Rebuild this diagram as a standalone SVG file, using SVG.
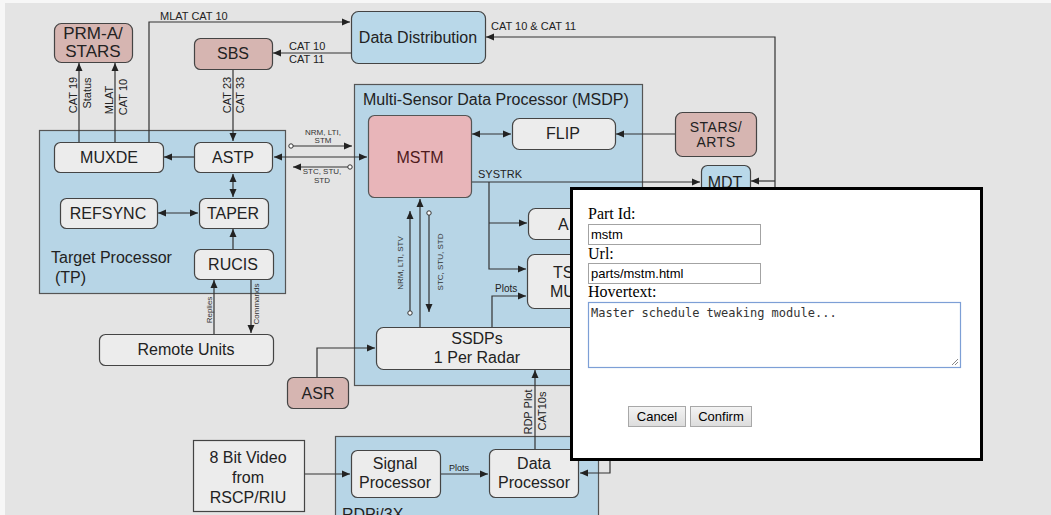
<svg xmlns="http://www.w3.org/2000/svg" width="1051" height="515" viewBox="0 0 1051 515">
<defs>
<marker id="ah" markerUnits="userSpaceOnUse" markerWidth="9" markerHeight="8" refX="8" refY="4" orient="auto-start-reverse"><path d="M0,0.5 L8,4 L0,7.5 Z" fill="#222"/></marker>
<linearGradient id="btn" x1="0" y1="0" x2="0" y2="1"><stop offset="0" stop-color="#f4f4f4"/><stop offset="1" stop-color="#dcdcdc"/></linearGradient>
</defs>
<style>
.t{font-family:"Liberation Sans",Arial,sans-serif;fill:#222}
.n{font-size:16px;text-anchor:middle}
.s{font-size:11px}
.xs{font-size:8px;fill:#333}
.c{text-anchor:middle}
.grp{fill:#b7d5e6;stroke:#555;stroke-width:1.2}
.box{fill:#ececec;stroke:#444;stroke-width:1.2}
.pink{fill:#d6b5b1;stroke:#444;stroke-width:1.2}
.blue{fill:#b9d8e9;stroke:#444;stroke-width:1.2}
.ln{fill:none;stroke:#333;stroke-width:1.2}
.ae{marker-end:url(#ah)}
.ab{marker-start:url(#ah);marker-end:url(#ah)}
.dot{fill:#fff;stroke:#333;stroke-width:1}
.sf{font-family:"Liberation Serif","Times New Roman",serif;font-size:16px;fill:#000}
.in{fill:#fff;stroke:#a3a3a3;stroke-width:1}
.it{font-family:"Liberation Sans",Arial,sans-serif;font-size:13px;fill:#000}
</style>
<rect x="0" y="0" width="1051" height="515" fill="#f7f7f7"/>
<rect x="5" y="3" width="1046" height="512" fill="#e4e4e4"/>

<g id="containers">
<g id="tp"><rect class="grp" x="39.5" y="130.5" width="246" height="163"/>
<text class="t" x="51" y="263" font-size="16">Target Processor</text>
<text class="t" x="55" y="283" font-size="16">(TP)</text></g>
<g id="msdp"><rect class="grp" x="354.5" y="84.5" width="288" height="301"/>
<text class="t" x="363" y="105" font-size="16">Multi-Sensor Data Processor (MSDP)</text></g>
<g id="rdpi"><rect class="grp" x="335.5" y="436.5" width="263" height="90"/>
<text class="t" x="342" y="520" font-size="16">RDPi/3X</text></g>
</g>

<g id="connectors">
<path class="ln ae" d="M149 142 V22 H350"/>
<path class="ln ae" d="M351 53 H273"/>
<path class="ln ae" d="M775 200 V37 H486"/>
<path class="ln ae" d="M775 181 H751"/>
<path class="ln ae" d="M233 69 V141"/>
<path class="ln ae" d="M79 142 V63"/>
<path class="ln ae" d="M115 142 V63"/>
<path class="ln ae" d="M194 157 H164"/>
<path class="ln ab" d="M233 174 V197"/>
<path class="ln ab" d="M158 213 H198"/>
<path class="ln ae" d="M233 249 V229"/>
<path class="ln ae" d="M214 334 V280"/>
<path class="ln ae" d="M251 279 V333"/>
<path class="ln ab" d="M274 157 H367"/>
<path class="ln ae" d="M291 146 H352"/>
<path class="ln ae" d="M350 167 H293"/>
<path class="ln ab" d="M472 134 H511"/>
<path class="ln ae" d="M675 134 H616"/>
<path class="ln ae" d="M472 182 H700"/>
<path class="ln ae" d="M489 182 V269 H526"/>
<path class="ln ae" d="M489 223 H527"/>
<path class="ln ae" d="M492 327 V296 H526"/>
<path class="ln ae" d="M410 313 V211"/>
<path class="ln ae" d="M420 327 V199"/>
<path class="ln ae" d="M429 213 V312"/>
<path class="ln ae" d="M317 377 V348 H375"/>
<path class="ln ae" d="M535 449 V370"/>
<path class="ln ae" d="M304 474 H350"/>
<path class="ln ae" d="M440 474 H488"/>
<path class="ln ae" d="M610 440 V473 H580"/>
<circle class="dot" cx="291" cy="146" r="2.2"/>
<circle class="dot" cx="350" cy="167" r="2.2"/>
<circle class="dot" cx="410" cy="313" r="2.2"/>
<circle class="dot" cx="429" cy="213" r="2.2"/>
<text class="t s" x="160" y="20">MLAT CAT 10</text>
<text class="t s" x="491" y="30">CAT 10 &amp; CAT 11</text>
<text class="t s" x="289" y="50">CAT 10</text>
<text class="t s" x="289" y="63">CAT 11</text>
<text class="t s" x="478" y="178">SYSTRK</text>
<text class="t s c" transform="translate(77,95) rotate(-90)">CAT 19</text>
<text class="t s c" transform="translate(91,93) rotate(-90)">Status</text>
<text class="t s c" transform="translate(113,100) rotate(-90)">MLAT</text>
<text class="t s c" transform="translate(127,97) rotate(-90)">CAT 10</text>
<text class="t s c" transform="translate(231,95) rotate(-90)">CAT 23</text>
<text class="t s c" transform="translate(244,95) rotate(-90)">CAT 33</text>
<text class="t xs c" transform="translate(212,310) rotate(-90)">Replies</text>
<text class="t xs c" transform="translate(259,304) rotate(-90)">Commands</text>
<text class="t xs c" transform="translate(403,263) rotate(-90)">NRM, LTI, STV</text>
<text class="t xs c" transform="translate(443,262) rotate(-90)">STC, STU, STD</text>
<text class="t s c" transform="translate(532,412) rotate(-90)">RDP Plot</text>
<text class="t s c" transform="translate(546,411) rotate(-90)">CAT10s</text>
<text class="t xs c" x="323" y="135">NRM, LTI,</text>
<text class="t xs c" x="323" y="143">STM</text>
<text class="t xs c" x="322" y="174">STC, STU,</text>
<text class="t xs c" x="322" y="183">STD</text>
<text class="t" x="495" y="292" font-size="10">Plots</text>
<text class="t" x="449" y="471" font-size="9">Plots</text>
</g>

<g id="prm"><rect class="pink" x="54.5" y="23.5" width="78" height="39" rx="7"/>
<text class="t c" x="93" y="39" font-size="17">PRM-A/</text><text class="t c" x="93" y="57" font-size="17">STARS</text></g>
<g id="sbs"><rect class="pink" x="194.5" y="38.5" width="78" height="31" rx="6"/><text class="t n" x="233" y="59">SBS</text></g>
<g id="datadist"><rect class="blue" x="351.5" y="11.5" width="134" height="52" rx="7"/><text class="t n" x="418" y="43">Data Distribution</text></g>
<g id="muxde"><rect class="box" x="54.5" y="142.5" width="109" height="30" rx="6"/><text class="t n" x="109" y="163">MUXDE</text></g>
<g id="astp"><rect class="box" x="194.5" y="142.5" width="78" height="30" rx="6"/><text class="t n" x="233" y="163">ASTP</text></g>
<g id="refsync"><rect class="box" x="60.5" y="198.5" width="97" height="30" rx="6"/><text class="t n" x="108" y="219">REFSYNC</text></g>
<g id="taper"><rect class="box" x="199.5" y="198.5" width="69" height="30" rx="6"/><text class="t n" x="233" y="219">TAPER</text></g>
<g id="rucis"><rect class="box" x="194.5" y="249.5" width="79" height="30" rx="6"/><text class="t n" x="233" y="270">RUCIS</text></g>
<g id="remote"><rect class="box" x="99.5" y="334.5" width="174" height="31" rx="6"/><text class="t n" x="186" y="355">Remote Units</text></g>
<g id="mstm"><rect x="368.5" y="115.5" width="103" height="82" rx="6" fill="#e8b5b9" stroke="#555" stroke-width="1.2"/><text class="t n" x="420" y="163" fill="#4e1a1c" style="fill:#4e1a1c">MSTM</text></g>
<g id="flip"><rect class="box" x="512.5" y="118.5" width="103" height="31" rx="7"/><text class="t n" x="563" y="139">FLIP</text></g>
<g id="stars"><rect class="pink" x="675.5" y="112.5" width="81" height="44" rx="7"/>
<text class="t c" x="716" y="132" font-size="14" letter-spacing="0.5">STARS/</text><text class="t c" x="716" y="147" font-size="14" letter-spacing="0.5">ARTS</text></g>
<g id="mdt"><rect class="blue" x="701.5" y="165.5" width="49" height="40" rx="6"/><text class="t n" x="725" y="188">MDT</text></g>
<g id="abox"><rect class="box" x="528.5" y="208.5" width="80" height="31" rx="7"/><text class="t" x="558" y="230" font-size="16">A</text></g>
<g id="tsmu"><rect class="box" x="527.5" y="254.5" width="80" height="54" rx="7"/>
<text class="t" x="553" y="278" font-size="16">TS</text><text class="t" x="550" y="297" font-size="16">MU</text></g>
<g id="ssdps"><rect class="box" x="376.5" y="327.5" width="202" height="42" rx="7"/>
<text class="t n" x="477" y="344">SSDPs</text><text class="t n" x="477" y="363">1 Per Radar</text></g>
<g id="asr"><rect class="pink" x="287.5" y="377.5" width="61" height="31" rx="6"/><text class="t n" x="318" y="399">ASR</text></g>
<g id="video"><rect class="box" x="193.5" y="440.5" width="111" height="71"/>
<text class="t n" x="248" y="463">8 Bit Video</text><text class="t n" x="248" y="483">from</text><text class="t n" x="248" y="503">RSCP/RIU</text></g>
<g id="signal"><rect class="box" x="351.5" y="450.5" width="89" height="47" rx="6"/>
<text class="t n" x="395" y="469">Signal</text><text class="t n" x="395" y="488">Processor</text></g>
<g id="dataproc"><rect class="box" x="489.5" y="449.5" width="89" height="48" rx="6"/>
<text class="t n" x="534" y="469">Data</text><text class="t n" x="534" y="488">Processor</text></g>

<g id="dialog">
<rect x="571.5" y="188.5" width="410" height="271" fill="#fff" stroke="#000" stroke-width="3"/>
<text class="sf" x="588" y="219">Part Id:</text>
<rect class="in" x="588.5" y="224.5" width="172" height="20"/>
<text class="it" x="591" y="239">mstm</text>
<text class="sf" x="588" y="259">Url:</text>
<rect class="in" x="588.5" y="263.5" width="172" height="20"/>
<text class="it" x="591" y="278">parts/mstm.html</text>
<text class="sf" x="588" y="297">Hovertext:</text>
<rect x="588.5" y="302.5" width="372" height="65" fill="#fff" stroke="#7d9fd6" stroke-width="1.2"/>
<text x="591" y="317" font-family="'DejaVu Sans Mono','Liberation Mono',monospace" font-size="12" fill="#333">Master schedule tweaking module...</text>
<path d="M958 359 L952 365 M958 362 L955 365" stroke="#888" stroke-width="1"/>
<rect x="628.5" y="406.5" width="57" height="20" fill="url(#btn)" stroke="#a8a8a8"/>
<text class="it c" x="657" y="421">Cancel</text>
<rect x="690.5" y="406.5" width="61" height="20" fill="url(#btn)" stroke="#a8a8a8"/>
<text class="it c" x="721" y="421">Confirm</text>
</g>
</svg>
